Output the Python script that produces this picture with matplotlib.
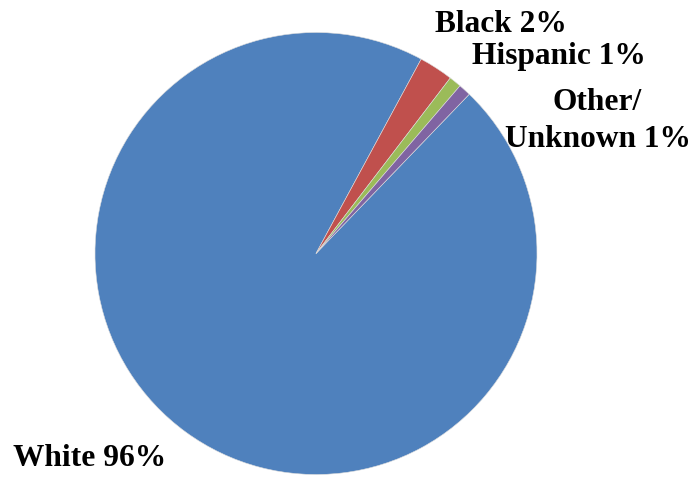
import numpy as np
import matplotlib
matplotlib.use("Agg")
import matplotlib.pyplot as plt

labels = ["White 96%", "Black 2%", "Hispanic 1%", "Other/\nUnknown 1%"]
values = [95.7, 2.5, 0.9, 0.9]
colors = ["#4F81BD", "#C0504D", "#9BBB59", "#8064A2"]

W, H = 693, 479
cx, cy, r = 316, 253.5, 221  # pie centre and radius in pixels

fig = plt.figure(figsize=(W / 100, H / 100), dpi=100)
ax = fig.add_axes([0, 0, 1, 1])
ax.pie(values, colors=colors, startangle=46.1, counterclock=False,
       wedgeprops=dict(linewidth=0.4, edgecolor="#dddddd"))
ax.set_xlim(-cx / r, (W - cx) / r)
ax.set_ylim(-(H - cy) / r, cy / r)
ax.set_aspect("equal")
ax.axis("off")

def px(x, y):
    return (x - cx) / r, (cy - y) / r

# label anchors (left edge, baseline) in pixels
spots = [(13, 466), (435, 32), (472, 64), (505, 147)]
font = dict(family="Liberation Serif", weight="bold", size=22.6)
for lab, (x, y) in zip(labels, spots):
    if "\n" in lab:
        top, bottom = lab.split("\n")
        ax.text(*px(552, 110), top, ha="left", va="baseline", **font)
        ax.text(*px(x, y), bottom, ha="left", va="baseline", **font)
    else:
        ax.text(*px(x, y), lab, ha="left", va="baseline", **font)

fig.savefig("out.png", dpi=100)
